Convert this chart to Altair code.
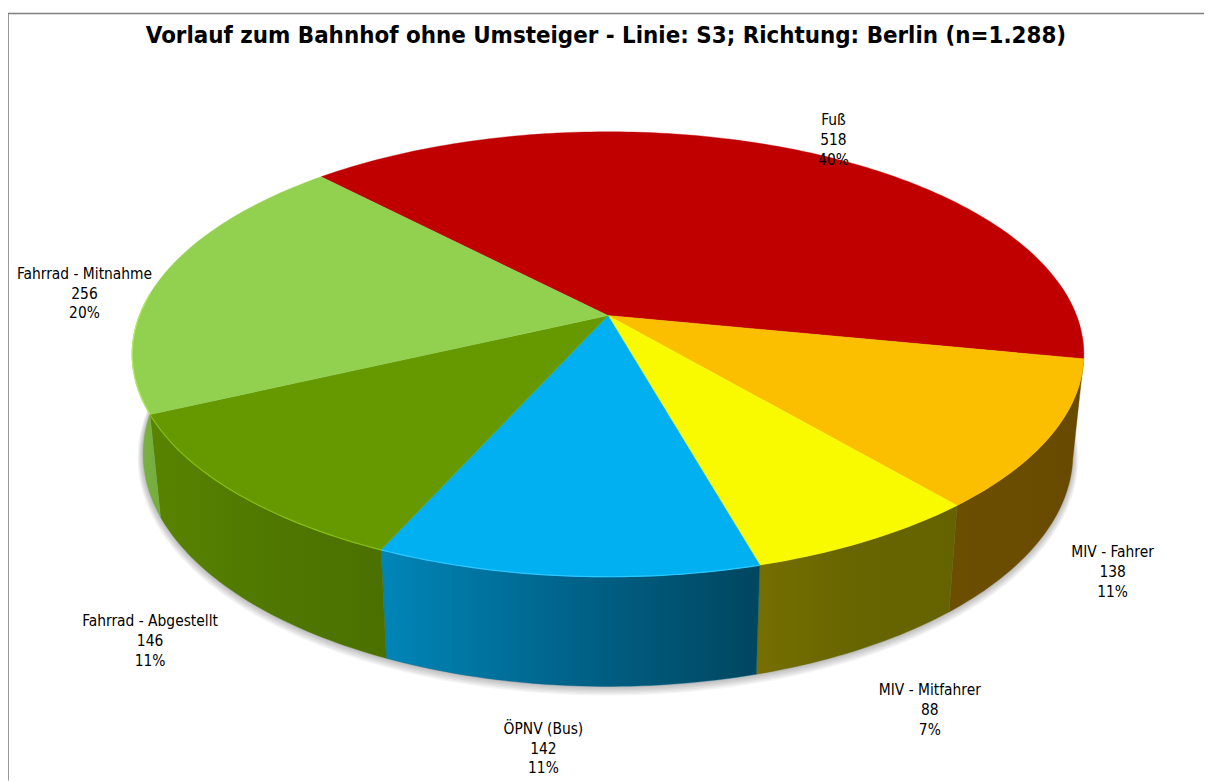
import math
import altair as alt

# ---- data ---------------------------------------------------------------
categories = ["Fuß", "MIV - Fahrer", "MIV - Mitfahrer", "ÖPNV (Bus)", "Fahrrad - Abgestellt", "Fahrrad - Mitnahme"]
values = [518, 138, 88, 142, 146, 256]
top_colors = ["#C00000", "#FBBF00", "#F9FA00", "#00B0F0", "#669900", "#92D050"]
wall_left = ["#7A0000", "#6B4E00", "#766F00", "#0086B8", "#588400", "#7CB544"]
wall_mid = ["#7A0000", "#6B4D00", "#676500", "#00638A", "#4F7800", "#78B040"]
wall_right = ["#7A0000", "#684A00", "#656300", "#00465F", "#4B7000", "#74AD3E"]
rim_colors = [None, None, None, "#2AC8FF", "#86BE10", "#B4EE60"]
# label centres (page pixels)
label_x = [839, 1120, 936, 547, 151, 85]
label_y = [118, 553, 692, 731, 623, 273]
title_text = "Vorlauf zum Bahnhof ohne Umsteiger - Linie: S3; Richtung: Berlin (n=1.288)"

# ---- view geometry -------------------------------------------------------
W, H = 1204, 775
OX, OY = 8, 8          # page margin
START = -133.6         # angle where the first slice starts (degrees, clockwise)
CX, CY = 612, 315      # apex of the pie on the page
A, B, K = 471.7, 217.2, 0.174   # perspective of the disc
BOT_X, BOT_Y, BOT_DY = 0.977, 1.045, 84.4   # lower rim of the disc
FONT = "DejaVu Sans Condensed"


def top(a):
    r = math.radians(a)
    u, v = math.cos(r), math.sin(r)
    d = 1 - K * v
    return CX + A * u / d, CY + B * v / d


def bottom(a, grow=0.0, dy=0.0):
    x, y = top(a)
    xb = CX + BOT_X * (x - CX)
    yb = BOT_Y * y + BOT_DY
    r = math.radians(a)
    return xb + grow * math.cos(r), yb + grow * math.sin(r) + dy


def screen(p):
    return [round(p[0] - OX, 2), round(p[1] - OY, 2)]


def arange(a0, a1, step=1.0):
    n = max(2, int(abs(a1 - a0) / step) + 1)
    return [a0 + (a1 - a0) * i / (n - 1) for i in range(n)]


def poly(points):
    pts = [screen(p) for p in points]
    pts.append(pts[0])
    return {"type": "Feature", "properties": {}, "geometry": {"type": "Polygon", "coordinates": [pts]}}


def line(points):
    return {"type": "Feature", "properties": {}, "geometry": {"type": "LineString", "coordinates": [screen(p) for p in points]}}


def shape(feature, **mark):
    data = alt.Data(values=[feature])
    return alt.Chart(data).mark_geoshape(**mark).project(type="identity", scale=1, translate=[0, 0])


total = sum(values)
edges = [START]
for val in values:
    edges.append(edges[-1] + val / total * 360)

layers = []

# soft shadow under the disc
outline = arange(-8, 188)
for g in range(1, 8):
    pts = [bottom(a, grow=g * 0.8, dy=g * 0.5) for a in outline] + [top(a) for a in reversed(outline)]
    layers.append(shape(poly(pts), fill="#333333", fillOpacity=0.05, strokeWidth=0))

# side walls, only the part that faces the viewer
for i in range(len(values)):
    a0, a1 = edges[i], edges[i + 1]
    if a0 > 190 or a1 < 0:
        continue
    lo, hi = max(a0, edges[0] + values[0] / total * 360 if i else a0), min(a1, 186)
    if i == 0:
        continue
    ang = arange(lo, hi)
    pts = [top(a) for a in ang] + [bottom(a) for a in reversed(ang)]
    # colours run left to right on the page, the angles run right to left
    grad = alt.LinearGradient(
        gradient="linear", x1=0, x2=1, y1=0, y2=0,
        stops=[
            alt.GradientStop(offset=0, color=wall_left[i]),
            alt.GradientStop(offset=0.5, color=wall_mid[i]),
            alt.GradientStop(offset=1, color=wall_right[i]),
        ],
    )
    layers.append(shape(poly(pts), fill=grad, stroke=wall_mid[i], strokeWidth=0.4))

# top faces
for i in range(len(values)):
    ang = arange(edges[i], edges[i + 1])
    pts = [(CX, CY)] + [top(a) for a in ang]
    layers.append(shape(poly(pts), fill=top_colors[i], stroke=top_colors[i], strokeWidth=0.4))

# bright rim line on the front of some slices
for i in range(len(values)):
    if rim_colors[i] is None:
        continue
    ang = arange(edges[i], min(edges[i + 1], 186))
    layers.append(shape(line([top(a) for a in ang]), filled=False, stroke=rim_colors[i], strokeWidth=1.2))

# chart frame: only its top and left edge fall inside the picture
frame = alt.Chart(alt.Data(values=[{"f": 1}]))
layers.append(frame.mark_rule(color="#7F7F7F", strokeWidth=1.6).encode(
    x=alt.value(0), y=alt.value(3), y2=alt.value(H)))
layers.append(frame.mark_rule(color="#7F7F7F", strokeWidth=1.6).encode(
    x=alt.value(0), x2=alt.value(W), y=alt.value(3)))

# slice labels
for i, cat in enumerate(categories):
    txt = f"{cat}\n{values[i]}\n{round(values[i] / total * 100)}%"
    layers.append(
        alt.Chart(alt.Data(values=[{"label": txt}]))
        .mark_text(font=FONT, fontSize=15.5, color="#000000", lineBreak="\n", lineHeight=20,
                   align="center", baseline="middle")
        .encode(text="label:N", x=alt.value(label_x[i] - OX), y=alt.value(label_y[i] - OY))
    )

chart = (
    alt.layer(*layers)
    .properties(
        width=W,
        height=H,
        padding=0,
        autosize="none",
        title=alt.Title(title_text, font=FONT, fontSize=24, fontWeight="bold", color="#000000",
                        anchor="middle", offset=-38, frame="group", dx=0),
    )
    .configure_view(stroke=None)
)

chart.save("out.html", embed_options={"renderer": "svg", "actions": False})
